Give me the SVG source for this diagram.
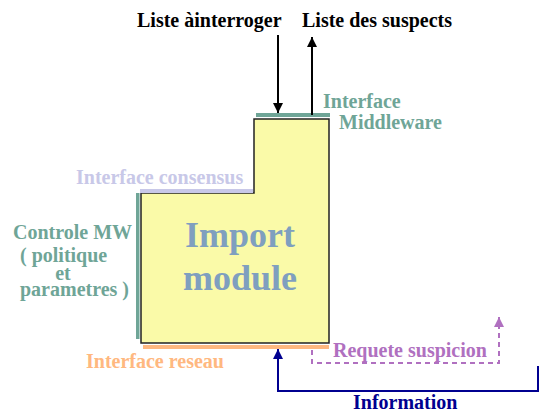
<svg xmlns="http://www.w3.org/2000/svg" width="539" height="412" viewBox="0 0 539 412">
<defs>
<style>
text{font-family:"Liberation Serif","Times New Roman",serif;font-weight:bold}
.lbl{font-size:20px}
.teal{fill:#6fa597}
.big{font-size:36px;fill:#7f9fbf}
</style>
<marker id="ab" markerWidth="10" markerHeight="14" refX="10" refY="5" orient="auto" markerUnits="userSpaceOnUse" viewBox="0 0 10 10"><path d="M0,0 L10,5 L0,10 z" fill="#000"/></marker>
<marker id="an" markerWidth="10" markerHeight="14" refX="10" refY="5" orient="auto" markerUnits="userSpaceOnUse" viewBox="0 0 10 10"><path d="M0,0 L10,5 L0,10 z" fill="#000090"/></marker>
<marker id="ap" markerWidth="10" markerHeight="14" refX="10" refY="5" orient="auto" markerUnits="userSpaceOnUse" viewBox="0 0 10 10"><path d="M0,0 L10,5 L0,10 z" fill="#b070c0"/></marker>
</defs>
<g id="import-module">
<path d="M141,193 H254 V119 H329 V343 H141 Z" fill="#fafaa8" stroke="#222" stroke-width="1.5"/>
<text class="big" x="240" y="247" text-anchor="middle">Import</text>
<text class="big" x="240" y="290" text-anchor="middle">module</text>
</g>
<g id="interface-middleware">
<rect x="256" y="113" width="74" height="4" fill="#6fa597"/>
<text class="lbl teal" x="323" y="108">Interface</text>
<text class="lbl teal" x="339" y="129">Middleware</text>
</g>
<g id="interface-consensus">
<rect x="140" y="189" width="113" height="4" fill="#c8c8e8"/>
<text class="lbl" x="76" y="184" fill="#c8c8e8">Interface consensus</text>
</g>
<g id="controle-mw">
<rect x="136" y="193" width="3.5" height="146" fill="#6fa597"/>
<text class="lbl teal" x="13" y="239">Controle MW</text>
<text class="lbl teal" x="20" y="262">( politique</text>
<text class="lbl teal" x="63" y="280" text-anchor="middle">et</text>
<text class="lbl teal" x="20" y="296">parametres )</text>
</g>
<g id="interface-reseau">
<rect x="143" y="345" width="186" height="4" fill="#ffb880"/>
<text class="lbl" x="86" y="368" fill="#ffb880">Interface reseau</text>
</g>
<g id="labels">
<text class="lbl" x="137" y="27" fill="#000">Liste àinterroger</text>
<text class="lbl" x="302" y="27" fill="#000">Liste des suspects</text>
<text class="lbl" x="333" y="357" fill="#b070c0">Requete suspicion</text>
<text class="lbl" x="353" y="409" fill="#000090">Information</text>
</g>
<g id="connectors" fill="none">
<line x1="278" y1="35" x2="278" y2="113" stroke="#000" stroke-width="2" marker-end="url(#ab)"/>
<line x1="312" y1="115" x2="312" y2="37" stroke="#000" stroke-width="2" marker-end="url(#ab)"/>
<path d="M312,350 V363 H499 V317" stroke="#b070c0" stroke-width="2" stroke-dasharray="5,4" marker-end="url(#ap)"/>
<path d="M538,366 V391 H278 V349" stroke="#000090" stroke-width="2" marker-end="url(#an)"/>
</g>
</svg>
